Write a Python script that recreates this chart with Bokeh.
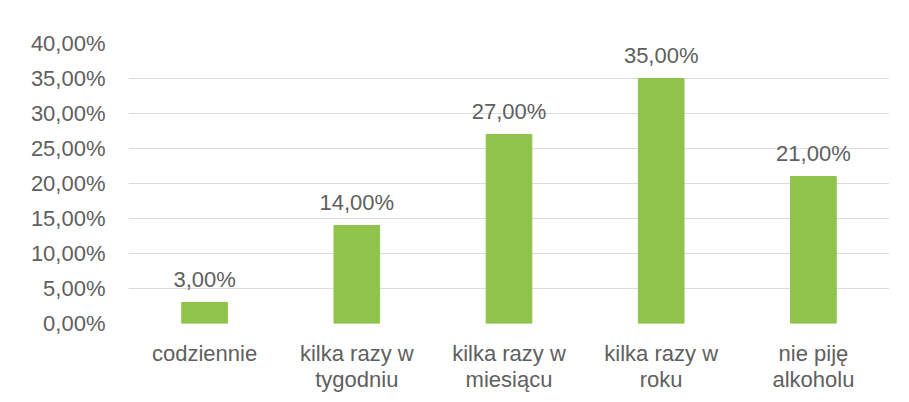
from bokeh.plotting import figure
from bokeh.models import ColumnDataSource, FactorRange, FixedTicker, LabelSet, Range1d
from bokeh.core.properties import value
from bokeh.embed import file_html
from bokeh.resources import INLINE

categories = ["codziennie", "kilka razy w\ntygodniu", "kilka razy w\nmiesiącu",
              "kilka razy w\nroku", "nie piję\nalkoholu"]
values = [3.0, 14.0, 27.0, 35.0, 21.0]
y_ticks = [0, 5, 10, 15, 20, 25, 30, 35, 40]
y_tick_labels = ["0,00%", "5,00%", "10,00%", "15,00%", "20,00%", "25,00%", "30,00%", "35,00%", "40,00%"]

FONT = "Liberation Sans"
TXT = "#606060"
BAR = "#90C34C"

labels = [f"{v:.2f}".replace(".", ",") + "%" for v in values]
src = ColumnDataSource(dict(cat=categories, val=values, lab=labels))

p = figure(width=903, height=394, x_range=FactorRange(*categories, range_padding=0),
           y_range=Range1d(0, 40), output_backend="svg", toolbar_location=None,
           min_border_left=128, min_border_right=14, min_border_top=43, min_border_bottom=71)
p.vbar(x="cat", top="val", width=0.3, source=src, color=BAR)

p.add_layout(LabelSet(x="cat", y="val", text="lab", source=src, y_offset=11,
                      text_align="center", text_baseline="bottom", text_font=value(FONT),
                      text_font_size="22px", text_color=TXT))

p.outline_line_color = None
p.xgrid.grid_line_color = None
p.ygrid.grid_line_color = "#DCDCDC"
p.ygrid.grid_line_width = 1

p.yaxis.ticker = FixedTicker(ticks=y_ticks)
p.yaxis.major_label_overrides = {t: l for t, l in zip(y_ticks, y_tick_labels)}
for ax in (p.xaxis, p.yaxis):
    ax.axis_line_color = None
    ax.major_tick_line_color = None
    ax.minor_tick_line_color = None
    ax.major_label_text_font = FONT
    ax.major_label_text_font_size = "22px"
    ax.major_label_text_color = TXT
    ax.major_label_text_line_height = 1.05
p.yaxis.major_label_standoff = 17
p.xaxis.major_label_standoff = 11

open("out.html", "w").write(file_html(p, INLINE))
